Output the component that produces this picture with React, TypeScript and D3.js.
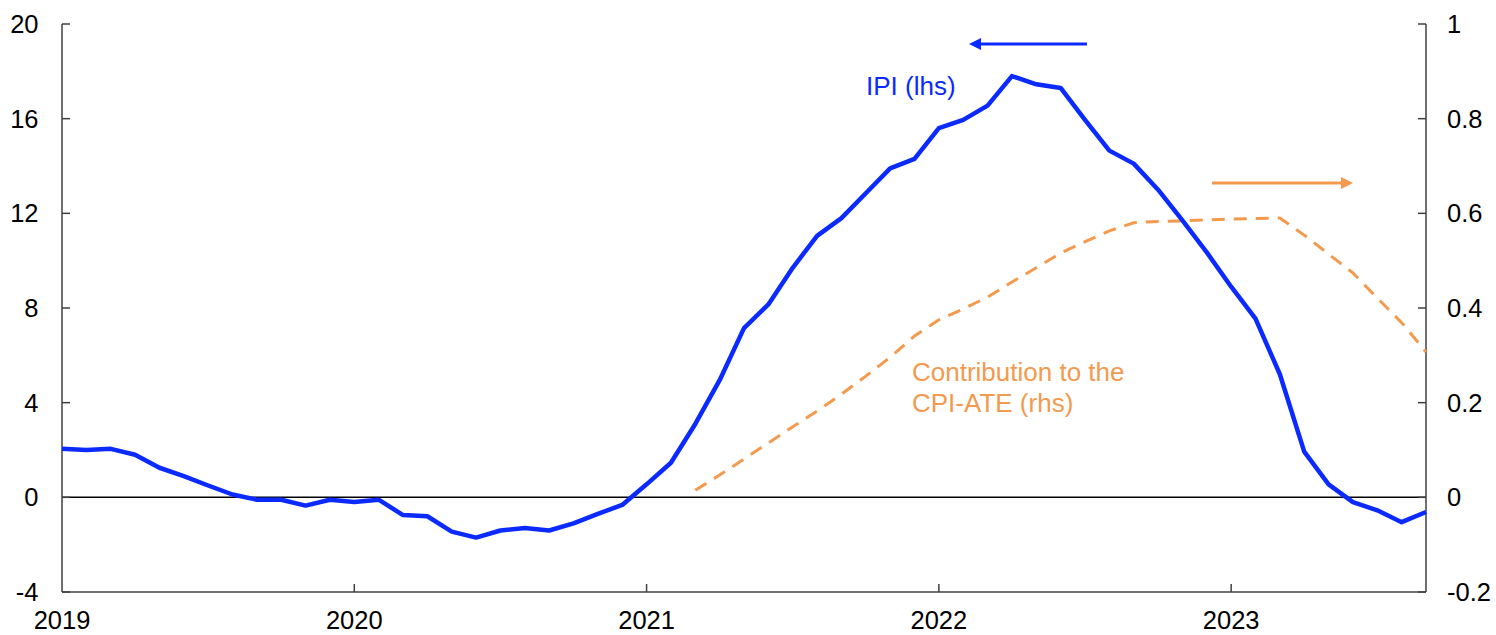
import React from "react";
import * as d3 from "d3";

// Monthly, Jan 2019 .. Sep 2023
const startYear = 2019;
const yearTicks = [2019, 2020, 2021, 2022, 2023];
const leftTicks = [-4, 0, 4, 8, 12, 16, 20];
const rightTicks = [-0.2, 0, 0.2, 0.4, 0.6, 0.8, 1];

// IPI (lhs), y/y %
const ipi = [
  2.05, 2.0, 2.05, 1.8, 1.25, 0.9, 0.5, 0.12, -0.1, -0.1, -0.35, -0.1,
  -0.2, -0.1, -0.75, -0.8, -1.45, -1.7, -1.4, -1.3, -1.4, -1.1, -0.7, -0.32,
  0.55, 1.46, 3.1, 4.95, 7.15, 8.15, 9.7, 11.05, 11.8, 12.85, 13.9, 14.3,
  15.6, 15.95, 16.55, 17.8, 17.45, 17.3, 15.95, 14.65, 14.1, 13.0, 11.7, 10.35,
  8.9, 7.55, 5.2, 1.93, 0.55, -0.2, -0.55, -1.05, -0.62,
];

// Contribution to the CPI-ATE (rhs), starts Mar 2021 (index 26)
const contribStart = 26;
const contrib = [
  0.015, 0.047, 0.081, 0.115, 0.149, 0.182, 0.218, 0.256, 0.296, 0.341,
  0.375, 0.398, 0.423, 0.455, 0.485, 0.516, 0.54, 0.563, 0.58, 0.583,
  0.584, 0.586, 0.588, 0.589, 0.59, 0.554, 0.514, 0.474, 0.421, 0.369, 0.307,
];

const W = 1496;
const H = 635;
const L = 62;
const R = 1426;
const T = 24;
const B = 592;

const BLUE = "#0a2aff";
const ORANGE = "#f39a4e";
const AXIS = "#404040";
const FONT = "Arial, 'Liberation Sans', sans-serif";

export default function App() {
  const nMonths = ipi.length - 1;
  const x = d3.scaleLinear().domain([0, nMonths]).range([L, R]);
  const yL = d3.scaleLinear().domain([-4, 20]).range([B, T]);
  const yR = d3.scaleLinear().domain([-0.2, 1]).range([B, T]);

  const ipiLine = d3
    .line<number>()
    .x((_, i) => x(i))
    .y((d) => yL(d))(ipi) as string;
  const contribLine = d3
    .line<number>()
    .x((_, i) => x(i + contribStart))
    .y((d) => yR(d))(contrib) as string;

  const tickLen = 8;

  return (
    <svg
      width={W}
      height={H}
      style={{ position: "absolute", left: 0, top: 0, background: "#fff" }}
      fontFamily={FONT}
    >
      <defs>
        <marker id="ahBlue" viewBox="0 0 10 10" refX="5" refY="5" markerWidth="4" markerHeight="4" orient="auto-start-reverse">
          <path d="M0,0 L10,5 L0,10 z" fill={BLUE} />
        </marker>
        <marker id="ahOrange" viewBox="0 0 10 10" refX="5" refY="5" markerWidth="4" markerHeight="4" orient="auto">
          <path d="M0,0 L10,5 L0,10 z" fill={ORANGE} />
        </marker>
      </defs>

      {/* zero line */}
      <line x1={L} x2={R} y1={yL(0)} y2={yL(0)} stroke="#000" strokeWidth={1.5} />

      {/* axes */}
      <line x1={L} x2={L} y1={T} y2={B} stroke={AXIS} strokeWidth={1.5} />
      <line x1={R} x2={R} y1={T} y2={B} stroke={AXIS} strokeWidth={1.5} />
      <line x1={L} x2={R} y1={B} y2={B} stroke={AXIS} strokeWidth={1.5} />

      {leftTicks.map((t) => (
        <g key={"l" + t}>
          <line x1={L} x2={L + tickLen} y1={yL(t)} y2={yL(t)} stroke={AXIS} strokeWidth={1.5} />
          <text x={38.5} y={yL(t)} textAnchor="end" dominantBaseline="central" fontSize={25.5} fill="#000">
            {t}
          </text>
        </g>
      ))}
      {rightTicks.map((t) => (
        <g key={"r" + t}>
          <line x1={R - tickLen} x2={R} y1={yR(t)} y2={yR(t)} stroke={AXIS} strokeWidth={1.5} />
          <text x={1447} y={yR(t)} textAnchor="start" dominantBaseline="central" fontSize={25.5} fill="#000">
            {t}
          </text>
        </g>
      ))}
      {yearTicks.map((yr) => {
        const xx = x((yr - startYear) * 12);
        return (
          <g key={"y" + yr}>
            {yr !== startYear && (
              <line x1={xx} x2={xx} y1={B} y2={B - tickLen} stroke={AXIS} strokeWidth={1.5} />
            )}
            <text x={xx} y={629} textAnchor="middle" fontSize={25.5} fill="#000">
              {yr}
            </text>
          </g>
        );
      })}

      {/* series */}
      <path d={contribLine} fill="none" stroke={ORANGE} strokeWidth={3} strokeDasharray="13 9" />
      <path d={ipiLine} fill="none" stroke={BLUE} strokeWidth={4.5} strokeLinejoin="round" />

      {/* annotations */}
      <line x1={1087} x2={975} y1={44} y2={44} stroke={BLUE} strokeWidth={3} markerEnd="url(#ahBlue)" />
      <text x={866} y={95} fontSize={26} fill={BLUE}>
        IPI (lhs)
      </text>

      <line x1={1212} x2={1347} y1={183} y2={183} stroke={ORANGE} strokeWidth={3} markerEnd="url(#ahOrange)" />
      <text x={912} y={381} fontSize={26} fill={ORANGE}>
        <tspan x={912}>Contribution to the</tspan>
        <tspan x={912} y={412}>
          CPI-ATE (rhs)
        </tspan>
      </text>
    </svg>
  );
}
